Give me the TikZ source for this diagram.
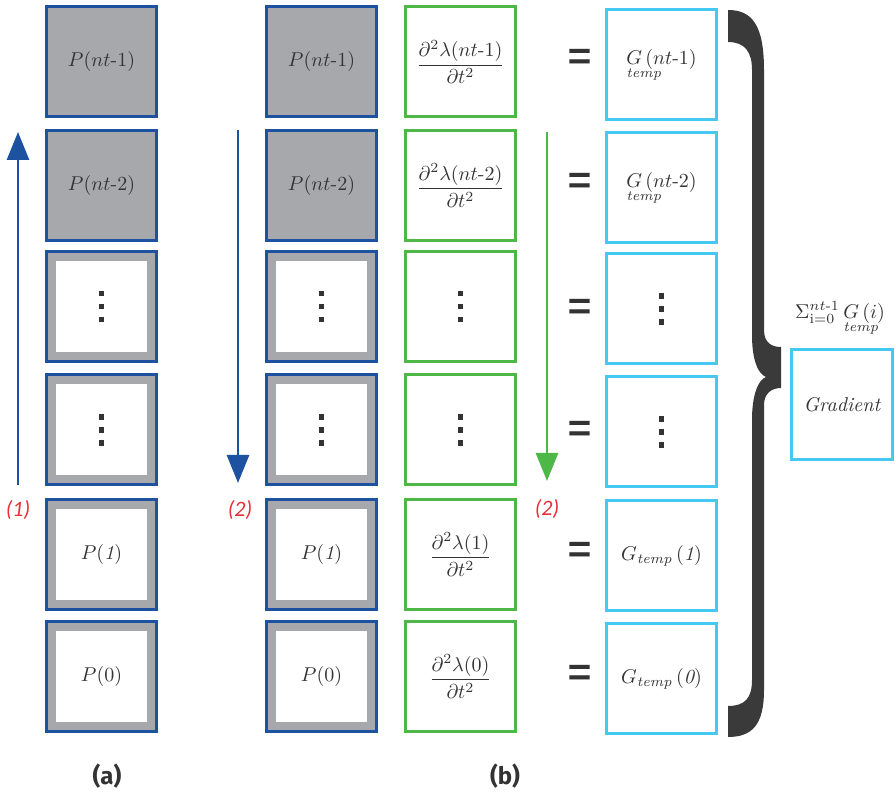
\documentclass[tikz,border=0pt]{standalone}
\usepackage{amsmath}
\usepackage{fontspec}
\newfontfamily\lblfont{Carlito}
\newfontfamily\capfont{Fira Sans}
\usetikzlibrary{arrows.meta,calc}

\definecolor{pblue}{HTML}{1D52A0}
\definecolor{pgray}{HTML}{A7A8AB}
\definecolor{ggreen}{HTML}{4DB848}
\definecolor{ccyan}{HTML}{45C8F2}
\definecolor{tdark}{HTML}{333333}
\definecolor{bdark}{HTML}{3A3A3A}
\definecolor{lred}{HTML}{E8303A}

% three stacked square dots
\newcommand{\sqdots}{\vbox{\offinterlineskip
  \hbox{\rule{2.6pt}{2.6pt}}\vskip3.9pt
  \hbox{\rule{2.6pt}{2.6pt}}\vskip3.9pt
  \hbox{\rule{2.6pt}{2.6pt}}}}
% G with the index set underneath, starting at its left edge
\newcommand{\Gtmp}{\rlap{\raisebox{-1.55ex}{$\scriptstyle \mathit{temp}$}}G}

\begin{document}
\begin{tikzpicture}[x=0.5pt,y=-0.5pt,
  every node/.style={text=tdark},
  cell/.style={minimum width=55pt,minimum height=55pt,inner sep=0pt,line width=1.5pt},
  pfull/.style={cell,draw=pblue,fill=pgray},
  phollow/.style={pfull,path picture={
      \fill[white] ([shift={(4.75pt,-4.75pt)}]path picture bounding box.north west)
        rectangle ([shift={(-4.75pt,4.75pt)}]path picture bounding box.south east);}},
  gbox/.style={cell,draw=ggreen},
  cbox/.style={cell,draw=ccyan},
  eqsign/.style={font=\capfont\fontsize{27}{28}\selectfont,text=tdark,inner sep=0pt},
  idx/.style={font=\lblfont\itshape\fontsize{11}{12}\selectfont,text=lred},
  captext/.style={font=\capfont\bfseries\fontsize{12}{14}\selectfont,text=tdark},
  arr/.style={line width=1.4pt,-{Triangle[width=11pt,length=14pt]}}
]
\useasboundingbox (0,0) rectangle (895,795);

% column (a): stored states
\node[pfull]   (a1) at (101.5,62)    {$P(nt\text{-}1)$};
\node[pfull]   (a2) at (101.5,185.5) {$P(nt\text{-}2)$};
\node[phollow] (a3) at (101.5,306.5) {\sqdots};
\node[phollow] (a4) at (101.5,430)   {\sqdots};
\node[phollow] (a5) at (101.5,554.5) {$P(\mathit{1})$};
\node[phollow] (a6) at (101.5,676.5) {$P(0)$};

% column (b): stored states
\node[pfull]   (b1) at (321.5,62)    {$P(nt\text{-}1)$};
\node[pfull]   (b2) at (321.5,185.5) {$P(nt\text{-}2)$};
\node[phollow] (b3) at (321.5,306.5) {\sqdots};
\node[phollow] (b4) at (321.5,430)   {\sqdots};
\node[phollow] (b5) at (321.5,554.5) {$P(\mathit{1})$};
\node[phollow] (b6) at (321.5,676.5) {$P(0)$};

% second time derivatives
\node[gbox] (d1) at (460.5,62)    {$\displaystyle\frac{\partial^2\lambda(nt\text{-}1)}{\partial t^2}$};
\node[gbox] (d2) at (460.5,185.5) {$\displaystyle\frac{\partial^2\lambda(nt\text{-}2)}{\partial t^2}$};
\node[gbox] (d3) at (460.5,306.5) {\sqdots};
\node[gbox] (d4) at (460.5,430)   {\sqdots};
\node[gbox] (d5) at (460.5,554.5) {$\displaystyle\frac{\partial^2\lambda(1)}{\partial t^2}$};
\node[gbox] (d6) at (460.5,676.5) {$\displaystyle\frac{\partial^2\lambda(0)}{\partial t^2}$};

% equal signs
\foreach \r/\y in {1/62,2/185.5,3/312,4/434,5/554.5,6/678}
  \node[eqsign] (e\r) at (580,\y) {=};

% temporary gradient terms
\node[cbox] (g1) at (661.5,65)  {$\Gtmp\,(nt\text{-}1)$};
\node[cbox] (g2) at (661.5,188) {$\Gtmp\,(nt\text{-}2)$};
\node[cbox] (g3) at (661.5,309) {\sqdots};
\node[cbox] (g4) at (661.5,432) {\sqdots};
\node[cbox] (g5) at (661.5,556) {$G_{\mathit{temp}}\,(\mathit{1})$};
\node[cbox] (g6) at (661.5,678.5) {$G_{\mathit{temp}}\,(\mathit{0})$};

% summing brace
\fill[bdark] (728,10) .. controls (752,10) and (764,25) .. (764,70)
  -- (764,330) .. controls (764,343) and (772,347) .. (781,347)
  -- (781,388) .. controls (772,388) and (764,393) .. (764,405)
  -- (764,690) .. controls (764,725) and (752,737) .. (728,737)
  -- (728,706) .. controls (745,706) and (752,698) .. (752,680)
  -- (752,420) .. controls (752,395) and (758,380) .. (766,377)
  .. controls (758,374) and (752,360) .. (752,335)
  -- (752,70) .. controls (752,52) and (745,42) .. (728,42) -- cycle;

\node[draw=ccyan,line width=1.5pt,minimum width=50.5pt,minimum height=55pt,inner sep=0pt]
  (grad) at (842,404.5) {\itshape Gradient};
\node (sum) at (840,318) {$\Sigma_{\mathrm{i=0}}^{nt\text{-}1}\,\Gtmp\,(i)$};

% traversal directions
\coordinate (u0) at (18,485);  \coordinate (u1) at (18,132);
\coordinate (v0) at (238,130); \coordinate (v1) at (238,483);
\coordinate (w0) at (547,132); \coordinate (w1) at (547,481);
\draw[arr,pblue]  (u0) -- (u1);
\draw[arr,pblue]  (v0) -- (v1);
\draw[arr,ggreen] (w0) -- (w1);

\node[idx] (l1) at (18,510)  {(1)};
\node[idx] (l2) at (240,510) {(2)};
\node[idx] (l3) at (547,509) {(2)};

\node[captext] (capa) at (107,776) {(a)};
\node[captext] (capb) at (505,776) {(b)};
\end{tikzpicture}
\end{document}
